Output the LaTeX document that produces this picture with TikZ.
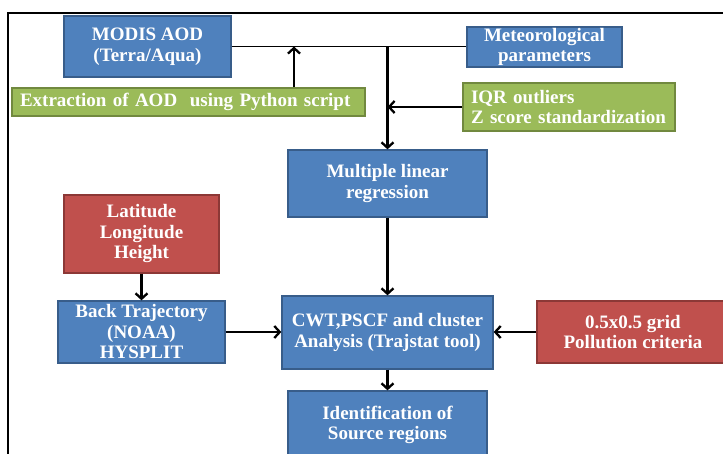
\documentclass[tikz,border=0pt]{standalone}
\usepackage{fontspec}
\setmainfont{Liberation Serif}
\usepackage{tikz}
\usetikzlibrary{arrows.meta,calc,positioning}
\definecolor{blueface}{HTML}{4F81BD}
\definecolor{blueline}{HTML}{385D8A}
\definecolor{redface}{HTML}{C0504D}
\definecolor{redline}{HTML}{8C3836}
\definecolor{greenface}{HTML}{9BBB59}
\definecolor{greenline}{HTML}{71893F}
\tikzset{
  box/.style={draw=blueline, fill=blueface, line width=1.3pt, text=white,
    font=\fontsize{19}{20.5}\selectfont\bfseries, align=center, inner sep=0pt},
  redbox/.style={box, draw=redline, fill=redface},
  greenbox/.style={box, draw=greenline, fill=greenface, align=left, inner xsep=8pt},
  link/.style={line width=1.7pt, black},
  arrow/.style={line width=2.3pt, black, -{Straight Barb[length=5.5pt,width=12pt]}}
}
\begin{document}
\begin{tikzpicture}[x=1pt,y=-1pt]
\useasboundingbox (0,0) rectangle (723,454);
\clip (0,0) rectangle (723,454);
\draw[line width=1.8pt] (8,470) |- (740,13);
\node[box, minimum width=167, minimum height=61] (modis) at (147.5,46.5) {MODIS AOD\\(Terra/Aqua)};
\node[box, minimum width=155, minimum height=40] (meteo) at (544.5,47) {Meteorological\\parameters};
\node[greenbox, text width=337, minimum height=28] (extract) at (188.5,102) {Extraction of AOD\ \ using Python script};
\node[greenbox, text width=196, minimum height=48] (iqr) at (569,107) {IQR outliers\\Z score standardization};
\node[box, minimum width=199, minimum height=67] (mlr) at (387.5,183.5) {Multiple linear\\regression};
\node[redbox, minimum width=155, minimum height=78] (latlon) at (141.5,234) {Latitude\\Longitude\\Height};
\node[box, minimum width=167, minimum height=62] (backtraj) at (141.5,332) {Back Trajectory\\(NOAA)\\HYSPLIT};
\node[box, minimum width=211, minimum height=73] (cwt) at (387.5,332.5) {CWT,PSCF and cluster\\Analysis (Trajstat tool)};
\node[redbox, minimum width=192, minimum height=62] (grid) at (633,332) {0.5x0.5 grid\\Pollution criteria};
\node[box, minimum width=199, minimum height=68] (ident) at (387.5,425) {Identification of\\Source regions};
\coordinate (up) at (294,46.5);
\draw[link] (modis.east) -- (modis.east -| meteo.west);
\draw[arrow] (mlr.north |- modis.east) -- (mlr.north);
\draw[arrow] (extract.north -| up) -- (up);
\draw[arrow] (iqr.west) -- (iqr.west -| mlr.north);
\draw[arrow] (mlr.south) -- (cwt.north);
\draw[arrow] (latlon.south) -- (backtraj.north);
\draw[arrow] (backtraj.east) -- (backtraj.east -| cwt.west);
\draw[arrow] (grid.west) -- (grid.west -| cwt.east);
\draw[arrow] (cwt.south) -- (ident.north);
\end{tikzpicture}
\end{document}
